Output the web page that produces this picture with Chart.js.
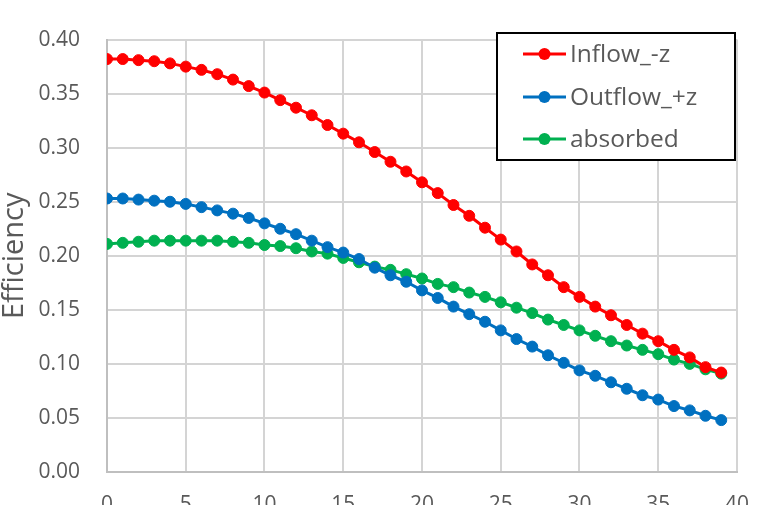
<!DOCTYPE html>
<html>
<head>
<meta charset="utf-8">
<script src="https://cdn.jsdelivr.net/npm/chart.js@4/dist/chart.umd.min.js"></script>
<style>
  html, body { margin: 0; padding: 0; background: #fff; overflow: hidden; }
  #wrap { width: 769px; height: 530px; }
</style>
</head>
<body>
<div id="wrap"><canvas id="c" width="769" height="530"></canvas></div>
<script>
// Position index along the sample
const positions = [0,1,2,3,4,5,6,7,8,9,10,11,12,13,14,15,16,17,18,19,
                   20,21,22,23,24,25,26,27,28,29,30,31,32,33,34,35,36,37,38,39];

const inflow = [0.382,0.382,0.381,0.380,0.378,0.375,0.372,0.368,0.363,0.357,
                0.351,0.344,0.337,0.330,0.321,0.313,0.305,0.296,0.287,0.278,
                0.268,0.258,0.247,0.237,0.226,0.215,0.204,0.192,0.182,0.171,
                0.162,0.153,0.145,0.136,0.128,0.121,0.113,0.106,0.097,0.092];

const outflow = [0.253,0.253,0.252,0.251,0.250,0.248,0.245,0.242,0.239,0.235,
                 0.230,0.225,0.220,0.214,0.208,0.203,0.197,0.189,0.182,0.176,
                 0.168,0.161,0.153,0.146,0.139,0.131,0.123,0.116,0.108,0.101,
                 0.094,0.089,0.083,0.077,0.071,0.067,0.061,0.057,0.052,0.048];

const absorbed = [0.211,0.212,0.213,0.214,0.214,0.214,0.214,0.214,0.213,0.212,
                  0.210,0.209,0.207,0.204,0.202,0.198,0.194,0.190,0.187,0.183,
                  0.179,0.174,0.171,0.166,0.162,0.157,0.152,0.147,0.141,0.136,
                  0.131,0.126,0.121,0.117,0.113,0.109,0.104,0.100,0.095,0.091];

const seriesNames = ['Inflow_-z', 'Outflow_+z', 'absorbed'];
const seriesValues = [inflow, outflow, absorbed];
const seriesColors = ['#ff0000', '#0070c0', '#00b050'];

const xTicks = [0, 5, 10, 15, 20, 25, 30, 35, 40];
const yTicks = [0, 0.05, 0.10, 0.15, 0.20, 0.25, 0.30, 0.35, 0.40];

const FONT = "'Open Sans', 'Noto Sans', sans-serif";
const TEXT = '#595959';

// Framed legend drawn inside the plot area
const boxLegend = {
  id: 'boxLegend',
  afterDraw(chart, args, o) {
    const ctx = chart.ctx;
    ctx.save();
    ctx.fillStyle = '#ffffff';
    ctx.fillRect(o.x, o.y, o.w, o.h);
    ctx.lineWidth = 2;
    ctx.strokeStyle = '#000000';
    ctx.strokeRect(o.x, o.y, o.w, o.h);
    chart.data.datasets.forEach((ds, i) => {
      const y = o.rows[i];
      ctx.strokeStyle = ds.borderColor;
      ctx.lineWidth = 3;
      ctx.beginPath();
      ctx.moveTo(o.lineX0, y);
      ctx.lineTo(o.lineX1, y);
      ctx.stroke();
      ctx.fillStyle = ds.borderColor;
      ctx.beginPath();
      ctx.arc((o.lineX0 + o.lineX1) / 2, y, 6, 0, Math.PI * 2);
      ctx.fill();
      ctx.fillStyle = TEXT;
      ctx.font = o.font;
      ctx.textBaseline = 'middle';
      ctx.textAlign = 'left';
      ctx.fillText(ds.label, o.textX, y + 1);
    });
    ctx.restore();
  }
};

const datasets = seriesNames.map((name, i) => ({
  label: name,
  data: positions.map((p, k) => ({ x: p, y: seriesValues[i][k] })),
  borderColor: seriesColors[i],
  backgroundColor: seriesColors[i],
  borderWidth: 3,
  pointRadius: 5.5,
  pointBorderWidth: 1,
  pointHoverRadius: 5.5,
  tension: 0
}));

new Chart(document.getElementById('c'), {
  type: 'line',
  data: { datasets },
  plugins: [boxLegend],
  options: {
    responsive: false,
    animation: false,
    devicePixelRatio: 1,
    layout: { padding: { top: 15, right: 18, left: 0, bottom: 0 } },
    plugins: {
      legend: { display: false },
      tooltip: { enabled: false },
      boxLegend: {
        x: 497, y: 33, w: 238, h: 127,
        lineX0: 523, lineX1: 566, textX: 570,
        rows: [54, 97, 139],
        font: "24.5px " + FONT
      }
    },
    scales: {
      x: {
        type: 'linear',
        min: 0, max: 40,
        afterBuildTicks(scale) { scale.ticks = xTicks.map(v => ({ value: v })); },
        afterFit(scale) { scale.height = 58; },
        grid: { color: '#d4d4d4', lineWidth: 2, drawTicks: false },
        border: { color: '#bfbfbf', width: 2 },
        ticks: { color: TEXT, font: { family: FONT, size: 21 }, padding: 20, maxRotation: 0 }
      },
      y: {
        min: 0, max: 0.4,
        afterBuildTicks(scale) { scale.ticks = yTicks.map(v => ({ value: v })); },
        afterFit(scale) { scale.width = 107; },
        grid: { color: '#d4d4d4', lineWidth: 2, drawTicks: false },
        border: { color: '#bfbfbf', width: 2 },
        title: {
          display: true, text: 'Efficiency', color: TEXT,
          font: { family: FONT, size: 29 }, padding: { top: -3, bottom: 0 }
        },
        ticks: {
          color: TEXT, font: { family: FONT, size: 21 }, padding: 27,
          callback: v => v.toFixed(2)
        }
      }
    }
  }
});
</script>
</body>
</html>
